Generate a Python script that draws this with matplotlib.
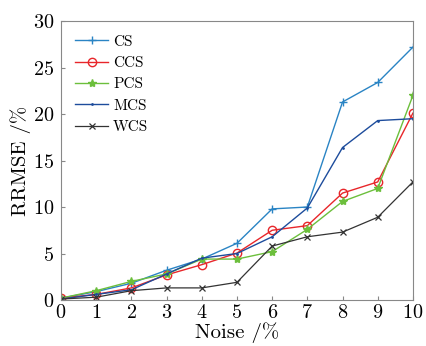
import matplotlib
matplotlib.use("Agg")
import matplotlib.pyplot as plt

plt.rcParams["font.family"] = "cmr10"
plt.rcParams["axes.formatter.use_mathtext"] = True
plt.rcParams["mathtext.fontset"] = "cm"

noise = [0, 1, 2, 3, 4, 5, 6, 7, 8, 9, 10]
cs  = [0.2, 0.9, 1.8, 3.2, 4.4, 6.1, 9.8, 10.0, 21.3, 23.4, 27.2]
ccs = [0.2, 0.6, 1.3, 2.7, 3.8, 5.05, 7.5, 8.0, 11.5, 12.7, 20.1]
pcs = [0.2, 1.0, 2.0, 2.8, 4.4, 4.4, 5.2, 7.6, 10.6, 12.0, 22.0]
mcs = [0.1, 0.6, 1.1, 2.8, 4.5, 5.0, 6.8, 9.9, 16.4, 19.3, 19.5]
wcs = [0.1, 0.3, 1.0, 1.3, 1.3, 1.9, 5.8, 6.8, 7.3, 8.9, 12.7]

fig = plt.figure(figsize=(4.27, 3.46), dpi=100)
ax = fig.add_axes([0.143, 0.133, 0.824, 0.806])

ax.plot(noise, cs, color="#2a84c4", lw=1.0, marker="+", ms=6, mew=1.0, label="CS")
ax.plot(noise, ccs, color="#e8262a", lw=1.0, marker="o", ms=6, mfc="none", mew=1.0, label="CCS")
ax.plot(noise, pcs, color="#6cbf3c", lw=1.0, marker="*", ms=6, label="PCS")
ax.plot(noise, mcs, color="#1d4c9c", lw=1.0, marker=".", ms=2, label="MCS")
ax.plot(noise, wcs, color="#333333", lw=0.9, marker="x", ms=4, mew=0.9, label="WCS")

ax.set_xlim(0, 10)
ax.set_ylim(0, 30)
ax.set_xticks(range(0, 11))
ax.set_yticks(range(0, 31, 5))
ax.tick_params(direction="in", labelsize=14.5, length=3, color="#888888")
ax.tick_params(axis="x", pad=3)
ax.tick_params(axis="y", pad=5)
for s in ax.spines.values():
    s.set_color("#888888")
ax.set_xlabel("Noise /%", fontsize=15, labelpad=0)
ax.set_ylabel("RRMSE /%", fontsize=15, labelpad=1)

ax.legend(loc="upper left", frameon=False, fontsize=11, handlelength=2.2,
          handletextpad=0.3, labelspacing=0.5, borderaxespad=0.5)

fig.savefig("out.png", dpi=100)
